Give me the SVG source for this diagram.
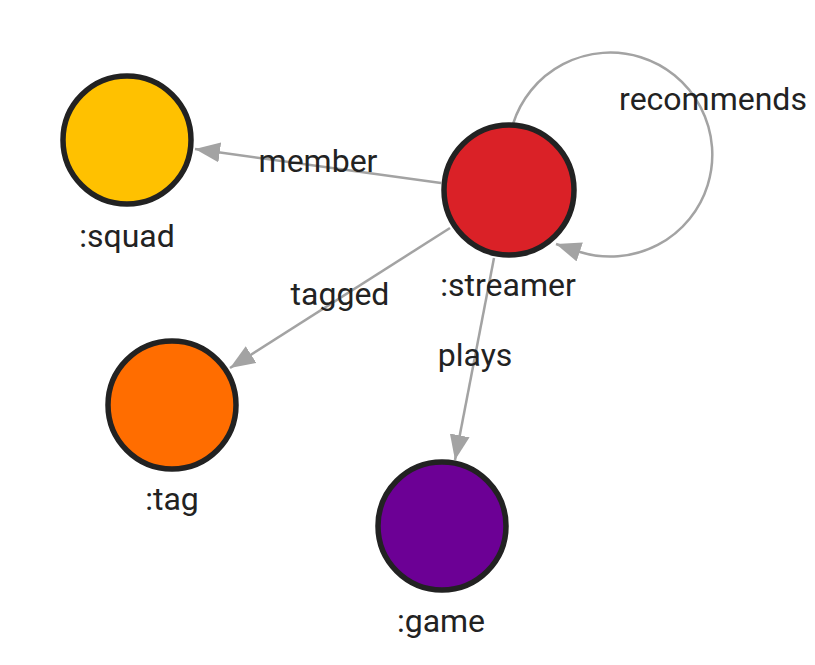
<svg xmlns="http://www.w3.org/2000/svg" width="815" height="665" viewBox="0 0 815 665">
<style>
.node{stroke:#222;stroke-width:5.5}
.edge{fill:none;stroke:#a3a3a3;stroke-width:2.5;marker-end:url(#arr)}
text{font-family:Roboto,"Liberation Sans",sans-serif;font-size:32px;fill:#222;text-anchor:middle}
</style>
<defs>
<marker id="arr" markerUnits="userSpaceOnUse" markerWidth="26" markerHeight="22" refX="25" refY="10" orient="auto" viewBox="0 0 26 22">
<path d="M0,0 L25,10 L0,20 z" fill="#a3a3a3"/>
</marker>
</defs>
<rect width="815" height="665" fill="#fff"/>
<g id="connectors">
<path class="edge" d="M441,183 L195,149"/>
<path class="edge" d="M450,228 L230,368"/>
<path class="edge" d="M494,258 L455,460"/>
<path class="edge" d="M513,124 A102,102 0 1 1 580,252 L556,244"/>
<text x="318" y="172">member</text>
<text x="713" y="110">recommends</text>
<text x="340" y="305">tagged</text>
<text x="475" y="366">plays</text>
</g>
<g id="squad"><circle class="node" cx="127" cy="140" r="64" fill="#FFC100"/><text x="127" y="247">:squad</text></g>
<g id="streamer"><circle class="node" cx="509" cy="190" r="65" fill="#DA2127"/><text x="508" y="296">:streamer</text></g>
<g id="tag"><circle class="node" cx="172" cy="405" r="64" fill="#FF6D00"/><text x="172" y="510">:tag</text></g>
<g id="game"><circle class="node" cx="442" cy="526" r="64" fill="#6C0095"/><text x="441" y="632">:game</text></g>
</svg>
